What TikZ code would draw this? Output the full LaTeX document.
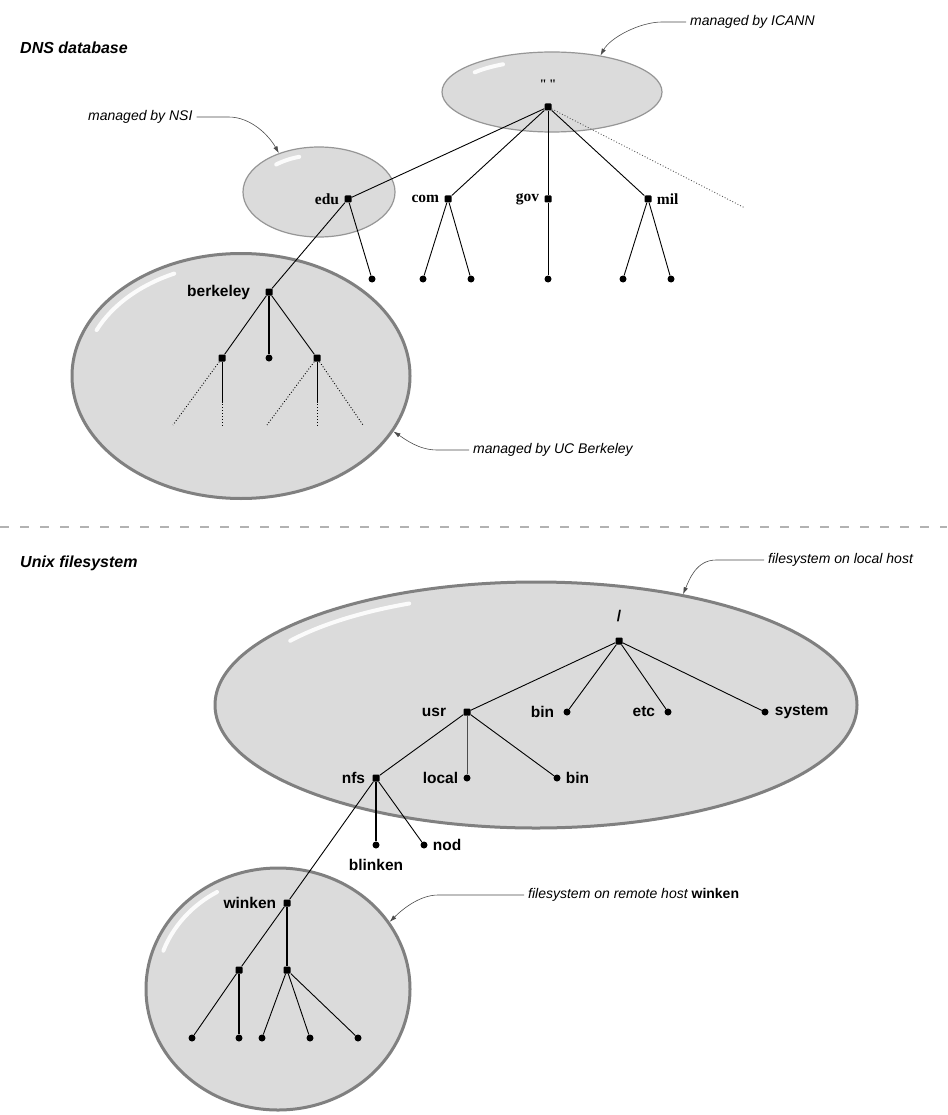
\documentclass[tikz,border=0pt]{standalone}
\usepackage{fontspec}
\setmainfont{Liberation Sans}
\newfontfamily\serifface{Liberation Serif}
\usetikzlibrary{shapes.geometric,arrows.meta,calc}
\definecolor{zonefill}{RGB}{219,219,219}
\definecolor{zonerim}{RGB}{150,150,150}

\begin{document}
\begin{tikzpicture}[x=1pt,y=-1pt,
  leaf/.style={circle,fill=black,inner sep=0pt,minimum size=7pt},
  fork/.style={rectangle,fill=black,inner sep=0pt,minimum size=7pt,rounded corners=1pt},
  lbl/.style={font=\fontsize{15.5}{18}\selectfont\bfseries,inner sep=1pt},
  tld/.style={font=\fontsize{15.5}{18}\selectfont\serifface\bfseries,inner sep=1pt},
  note/.style={font=\fontsize{14}{17}\selectfont\itshape,inner sep=0pt,anchor=west},
  heading/.style={font=\fontsize{16}{19}\selectfont\bfseries\itshape,inner sep=0pt,anchor=west},
  zone/.style={ellipse,fill=zonefill,draw=zonerim,line width=1.2pt,inner sep=0pt},
  bigzone/.style={zone,draw=zonerim!85!black,line width=3pt},
  edge/.style={line width=0.9pt},
  stub/.style={line width=0.9pt,dotted},
  leader/.style={line width=0.6pt,gray!60!black,-{Latex[length=7pt,width=4.5pt]}},
  shine/.style={white,line width=4pt,line cap=round,opacity=0.9},
  label distance=6pt]

% page
\fill[white] (0,0) rectangle (947,1115);
\useasboundingbox (0,0) rectangle (947,1115);

% ---------------- DNS database ----------------
\node[heading] (dnstitle) at (20,48) {DNS database};

% zones of authority
\node[zone,minimum width=220pt,minimum height=80pt] (rootzone) at (552,92) {};
\node[zone,minimum width=152pt,minimum height=90pt] (nsizone) at (319,192) {};
\node[bigzone,minimum width=338pt,minimum height=245pt] (bzone) at (241,376) {};
\draw[shine] (552,92) ++(218:98 and 32) arc[start angle=218,end angle=240,x radius=98,y radius=32];
\draw[shine] (319,192) ++(228:64 and 37) arc[start angle=228,end angle=252,x radius=64,y radius=37];
\draw[shine] (241,376) ++(204:158 and 113) arc[start angle=204,end angle=245,x radius=158,y radius=113];

% tree
\node[fork,label={[font=\fontsize{13}{15}\selectfont\serifface\bfseries,inner sep=1pt,name=rootL,label distance=14pt]above:"\,"}] (dnsroot) at (548,107) {};
\node[fork,label={[tld,name=eduL,label distance=4pt]left:edu}] (edu) at (348,199) {};
\node[fork,label={[tld,name=comL,label distance=4pt]left:com}] (com) at (448,199) {};
\node[fork,label={[tld,name=govL,label distance=4pt]left:gov}] (gov) at (548,199) {};
\node[fork,label={[tld,name=milL,label distance=4pt]right:mil}] (mil) at (648,199) {};
\coordinate (more) at (745,208);
\node[leaf] (e1) at (372,279) {};
\node[leaf] (c1) at (423,279) {};
\node[leaf] (c2) at (471,279) {};
\node[leaf] (g1) at (548,279) {};
\node[leaf] (m1) at (623,279) {};
\node[leaf] (m2) at (671,279) {};
\node[fork,label={[lbl,name=berkeleyL,label distance=14pt]left:berkeley}] (berkeley) at (269,292) {};
\node[fork] (b1) at (222,358) {};
\node[leaf] (b2) at (269,358) {};
\node[fork] (b3) at (317,358) {};
\coordinate (s1) at (173,425);
\coordinate (s2) at (222,425);
\coordinate (s3) at (267,425);
\coordinate (s4) at (317,425);
\coordinate (s5) at (363,425);

\draw[edge] (dnsroot) -- (edu);
\draw[edge] (dnsroot) -- (com);
\draw[edge] (dnsroot) -- (gov);
\draw[edge] (dnsroot) -- (mil);
\draw[stub,gray!70!black] (dnsroot) -- (more);
\draw[edge] (edu) -- (e1);
\draw[edge] (edu) -- (berkeley);
\draw[edge] (com) -- (c1);
\draw[edge] (com) -- (c2);
\draw[edge] (gov) -- (g1);
\draw[edge] (mil) -- (m1);
\draw[edge] (mil) -- (m2);
\draw[edge] (berkeley) -- (b1);
\draw[edge,line width=1.2pt] (berkeley) -- (b2);
\draw[edge] (berkeley) -- (b3);
\draw[stub] (b1) -- (s1);
\draw[edge] (b1) -- ($(b1)!0.65!(s2)$);
\draw[stub] ($(b1)!0.65!(s2)$) -- (s2);
\draw[stub] (b3) -- (s3);
\draw[edge] (b3) -- ($(b3)!0.65!(s4)$);
\draw[stub] ($(b3)!0.65!(s4)$) -- (s4);
\draw[stub] (b3) -- (s5);

% notes
\node[note] (icann) at (690,22) {managed by ICANN};
\node[note] (nsi) at (88,117) {managed by NSI};
\node[note] (ucb) at (473,450) {managed by UC Berkeley};
\draw[leader] ($(icann.west)+(-4,0)$) -- ++(-24,0) .. controls +(-22,0) and +(10,-18) .. (rootzone.37);
\draw[leader] ($(nsi.east)+(4,0)$) -- ++(32,0) .. controls +(22,0) and +(-10,-18) .. (nsizone.136);
\draw[leader] ($(ucb.west)+(-4,0)$) -- ++(-32,0) .. controls +(-18,0) and +(12,8) .. (bzone.-20);

% separator
\coordinate (sepL) at (0,527);
\coordinate (sepR) at (947,527);
\draw[gray!60,line width=2pt,dash pattern=on 9pt off 11pt] (sepL) -- (sepR);

% ---------------- Unix filesystem ----------------
\node[heading] (fstitle) at (20,563) {Unix filesystem};

\node[bigzone,minimum width=642pt,minimum height=246pt] (hostzone) at (536,705) {};
\node[bigzone,minimum width=264pt,minimum height=242pt] (wzone) at (278,989) {};
\draw[shine] (536,705) ++(215:300 and 112) arc[start angle=215,end angle=245,x radius=300,y radius=112];
\draw[shine] (278,989) ++(200:122 and 112) arc[start angle=200,end angle=240,x radius=122,y radius=112];

\node[fork,label={[lbl,name=slashL,label distance=14pt]above:/}] (fsroot) at (619,641) {};
\node[fork,label={[lbl,name=usrL,label distance=16pt]left:usr}] (usr) at (467,712) {};
\node[leaf,label={[lbl,name=sbinL,label distance=8pt]left:bin}] (sbin) at (567,712) {};
\node[leaf,label={[lbl,name=etcL,label distance=8pt]left:etc}] (etc) at (668,712) {};
\node[leaf,label={[lbl,name=systemL,label distance=5pt]right:system}] (system) at (765,712) {};
\node[fork,label={[lbl,name=nfsL]left:nfs}] (nfs) at (376,778) {};
\node[leaf,label={[lbl,name=localL,label distance=4pt]left:local}] (local) at (467,778) {};
\node[leaf,label={[lbl,name=ubinL,label distance=4pt]right:bin}] (ubin) at (557,778) {};
\node[leaf,label={[lbl,name=blinkenL,label distance=9pt]below:blinken}] (blinken) at (376,845) {};
\node[leaf,label={[lbl,name=nodL,label distance=4pt]right:nod}] (nod) at (424,845) {};
\node[fork,label={[lbl,name=winkenL]left:winken}] (winken) at (287,903) {};
\node[fork] (w1) at (239,970) {};
\node[fork] (w2) at (287,970) {};
\node[leaf] (wl1) at (192,1038) {};
\node[leaf] (wl2) at (239,1038) {};
\node[leaf] (wl3) at (262,1038) {};
\node[leaf] (wl4) at (310,1038) {};
\node[leaf] (wl5) at (358,1038) {};

\draw[edge] (fsroot) -- (usr);
\draw[edge] (fsroot) -- (sbin);
\draw[edge] (fsroot) -- (etc);
\draw[edge] (fsroot) -- (system);
\draw[edge] (usr) -- (nfs);
\draw[line width=0.6pt,gray!60!black] (usr) -- (local);
\draw[edge] (usr) -- (ubin);
\draw[edge,line width=1.3pt] (nfs) -- (blinken);
\draw[edge] (nfs) -- (nod);
\draw[edge] (nfs) -- (winken);
\draw[edge] (winken) -- (w1);
\draw[edge,line width=1.2pt] (winken) -- (w2);
\draw[edge] (w1) -- (wl1);
\draw[edge,line width=1.2pt] (w1) -- (wl2);
\draw[edge] (w2) -- (wl3);
\draw[edge] (w2) -- (wl4);
\draw[edge] (w2) -- (wl5);

% notes
\node[note] (localnote) at (768,560) {filesystem on local host};
\node[note] (remnote) at (528,895) {filesystem on remote host {\bfseries\upshape winken}};
\draw[leader] ($(localnote.west)+(-4,0)$) -- ++(-48,0) .. controls +(-20,0) and +(6,-14) .. (hostzone.37);
\draw[leader] ($(remnote.west)+(-4,0)$) -- ++(-86,0) .. controls +(-20,0) and +(10,-10) .. (wzone.31);

\end{tikzpicture}
\end{document}
